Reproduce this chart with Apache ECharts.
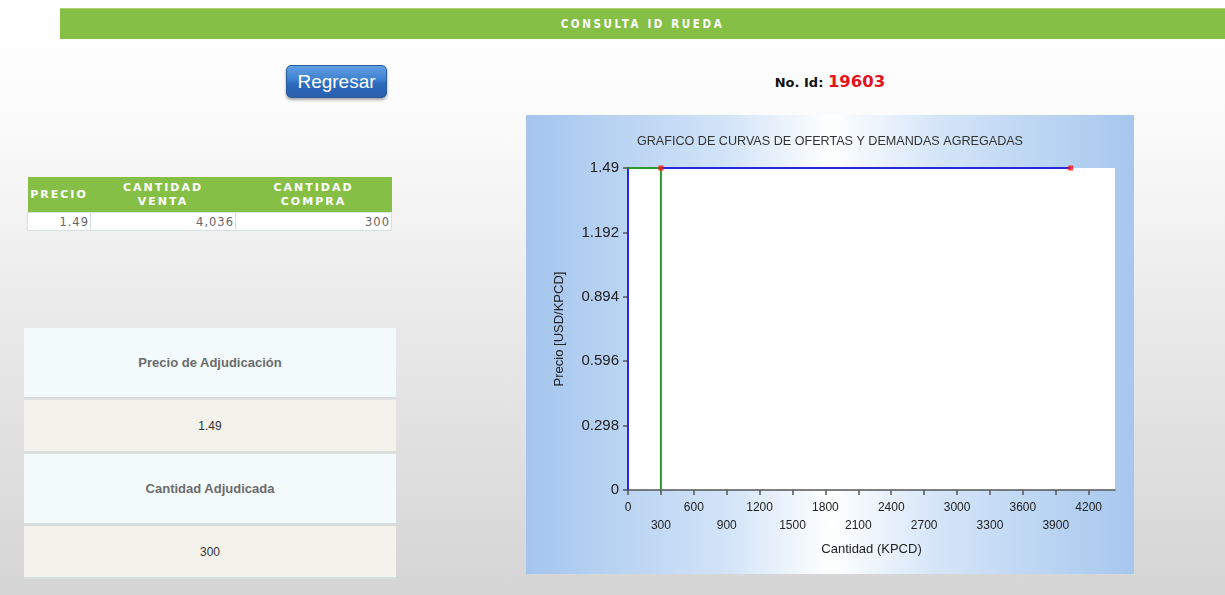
<!DOCTYPE html>
<html>
<head>
<meta charset="utf-8">
<script src="https://cdn.jsdelivr.net/npm/echarts@6/dist/echarts.min.js"></script>
<style>
  html, body { margin: 0; padding: 0; }
  body {
    width: 1225px; height: 595px; overflow: hidden; position: relative;
    background: linear-gradient(to bottom, #ffffff 0%, #fcfcfc 18%, #e9e9e9 55%, #d5d5d5 100%);
    font-family: "Liberation Sans", Arial, sans-serif;
  }
  .abs { position: absolute; }
  #header {
    left: 60px; top: 8px; width: 1165px; height: 31px;
    background: #86bf45; border-top: 1px solid #a9d27a; box-sizing: border-box;
    color: #fff; text-align: center; line-height: 30px;
    font-family: "DejaVu Sans", sans-serif; font-stretch: condensed; font-weight: bold;
    font-size: 11.5px; letter-spacing: 2.6px;
  }
  #btn {
    left: 286px; top: 65px; width: 101px; height: 33px; box-sizing: border-box;
    border-radius: 5px; border: 1px solid #2b5c9e;
    background: linear-gradient(to bottom, #62a0e3 0%, #3c80cf 45%, #2d6bbd 55%, #2860ad 100%);
    box-shadow: 0 2px 3px rgba(0,0,0,0.35);
    color: #fff; text-align: center; line-height: 31px; font-size: 19px;
    font-family: "Liberation Sans", Arial, sans-serif;
  }
  #noid {
    left: 700px; top: 72px; width: 260px; text-align: center;
    font-family: "DejaVu Sans", sans-serif; font-weight: bold; color: #111; font-size: 13px;
  }
  #noid span { color: #e4141c; font-size: 16.5px; }
  #tbl { left: 27px; top: 177px; border-collapse: collapse; table-layout: fixed; }
  #tbl th {
    background: #86bf45; color: #fff; font-family: "DejaVu Sans", sans-serif; font-weight: bold;
    font-size: 11px; letter-spacing: 2px; line-height: 14px; height: 35px; padding: 0;
    text-align: center; vertical-align: middle;
  }
  #tbl td {
    background: #fff; color: #666; font-family: "DejaVu Sans", sans-serif; font-size: 11.5px;
    height: 17px; padding: 0 1px 0 0; text-align: right; border: 1px solid #d5e0e0;
    border-left: 1px solid #9a9a9a; letter-spacing: 1px;
  }
  #tbl td:first-child { border-left: 1px solid #d5e0e0; }
  .card {
    left: 24px; width: 372px; box-sizing: border-box; text-align: center;
    border-bottom: 2px solid #d6dede;
  }
  .lbl { background: #f3fafb; color: #6b6b6b; font-weight: bold; font-size: 13px; }
  .val { background: #f3f2eb; color: #333; font-size: 12px; }
  #chart { left: 526px; top: 115px; width: 608px; height: 459px;
    background: linear-gradient(to right, #a4c5ee 0%, #d2e4f8 33%, #ffffff 50%, #d4e5f8 68%, #a6c7ee 100%);
  }
</style>
</head>
<body>
<div id="header" class="abs">CONSULTA ID RUEDA</div>
<div id="btn" class="abs">Regresar</div>
<div id="noid" class="abs">No. Id: <span>19603</span></div>

<table id="tbl" class="abs">
  <colgroup><col style="width:63px"><col style="width:145px"><col style="width:156px"></colgroup>
  <thead><tr id="thead"></tr></thead>
  <tbody><tr id="trow"></tr></tbody>
</table>

<div class="abs card lbl" style="top:328px;height:71px;line-height:70px;">Precio de Adjudicación</div>
<div class="abs card val" id="vprecio" style="top:400px;height:53px;line-height:52px;"></div>
<div class="abs card lbl" style="top:454px;height:71px;line-height:70px;">Cantidad Adjudicada</div>
<div class="abs card val" id="vcant" style="top:526px;height:53px;line-height:52px;"></div>

<div id="chart" class="abs"></div>

<script>
// ---- data ----
const headers = ["PRECIO", "CANTIDAD<br>VENTA", "CANTIDAD<br>COMPRA"];
const precios = [1.49];
const cantidadVenta = [4036];
const cantidadCompra = [300];
const precioAdjudicacion = 1.49;
const cantidadAdjudicada = 300;
const yTicks = [0, 0.298, 0.596, 0.894, 1.192, 1.49];
const xTicks = [0, 300, 600, 900, 1200, 1500, 1800, 2100, 2400, 2700, 3000, 3300, 3600, 3900, 4200];
const xMax = 4440;
const yMax = 1.49;

// ---- html parts ----
document.getElementById('thead').innerHTML = headers.map(h => '<th>' + h + '</th>').join('');
document.getElementById('trow').innerHTML =
  '<td>' + precios[0].toFixed(2) + '</td>' +
  '<td>' + cantidadVenta[0].toLocaleString('en-US') + '</td>' +
  '<td>' + cantidadCompra[0].toLocaleString('en-US') + '</td>';
document.getElementById('vprecio').textContent = precioAdjudicacion;
document.getElementById('vcant').textContent = cantidadAdjudicada;

// ---- chart ----
const p = precios[0];
const oferta = [[0, 0], [0, p], [cantidadVenta[0], p]];
const demanda = [[0, p], [cantidadCompra[0], p], [cantidadCompra[0], 0]];
const puntos = [[cantidadCompra[0], p], [cantidadVenta[0], p]];

const chart = echarts.init(document.getElementById('chart'), null, { renderer: 'canvas' });
chart.setOption({
  animation: false,
  backgroundColor: 'transparent',
  title: {
    text: 'GRAFICO DE CURVAS DE OFERTAS Y DEMANDAS AGREGADAS',
    left: 'center', top: 15,
    textStyle: { fontFamily: 'Liberation Sans', fontSize: 12.6, fontWeight: 'normal', color: '#333' }
  },
  grid: { left: 102, top: 53, right: 19, bottom: 84, show: true, backgroundColor: '#ffffff', borderWidth: 0 },
  xAxis: {
    type: 'value', min: 0, max: xMax,
    name: 'Cantidad (KPCD)', nameLocation: 'middle', nameGap: 53,
    nameTextStyle: { fontFamily: 'Liberation Sans', fontSize: 13, color: '#222' },
    axisLine: { show: true, lineStyle: { color: '#555', width: 1.5 } },
    axisTick: { show: true, length: 5, customValues: xTicks, lineStyle: { color: '#555', width: 1.5 } },
    axisLabel: {
      customValues: xTicks, margin: 9, fontFamily: 'Liberation Sans', fontSize: 12, color: '#222', lineHeight: 18,
      formatter: v => (v % 600 === 0 ? String(v) : '\n' + v)
    },
    splitLine: { show: false }
  },
  yAxis: {
    type: 'value', min: 0, max: yMax,
    name: 'Precio [USD/KPCD]', nameLocation: 'middle', nameGap: 62,
    nameTextStyle: { fontFamily: 'Liberation Sans', fontSize: 13, color: '#222' },
    axisLine: { show: true, lineStyle: { color: '#2b2b8c', width: 1.5 } },
    axisTick: { show: true, length: 5, customValues: yTicks, lineStyle: { color: '#555', width: 1.5 } },
    axisLabel: {
      customValues: yTicks, margin: 9, fontFamily: 'Liberation Sans', fontSize: 15, color: '#222',
      formatter: v => String(+v.toFixed(3))
    },
    splitLine: { show: false }
  },
  series: [
    { name: 'Oferta', type: 'line', data: oferta, symbol: 'none', clip: false,
      lineStyle: { color: '#2828e0', width: 2 }, z: 3 },
    { name: 'Demanda', type: 'line', data: demanda, symbol: 'none', clip: false,
      lineStyle: { color: '#2e9a2e', width: 2 }, z: 4 },
    { name: 'Cruce', type: 'scatter', data: puntos, symbol: 'rect', symbolSize: 5,
      itemStyle: { color: '#ff1010' }, z: 5 }
  ]
});
</script>
</body>
</html>
